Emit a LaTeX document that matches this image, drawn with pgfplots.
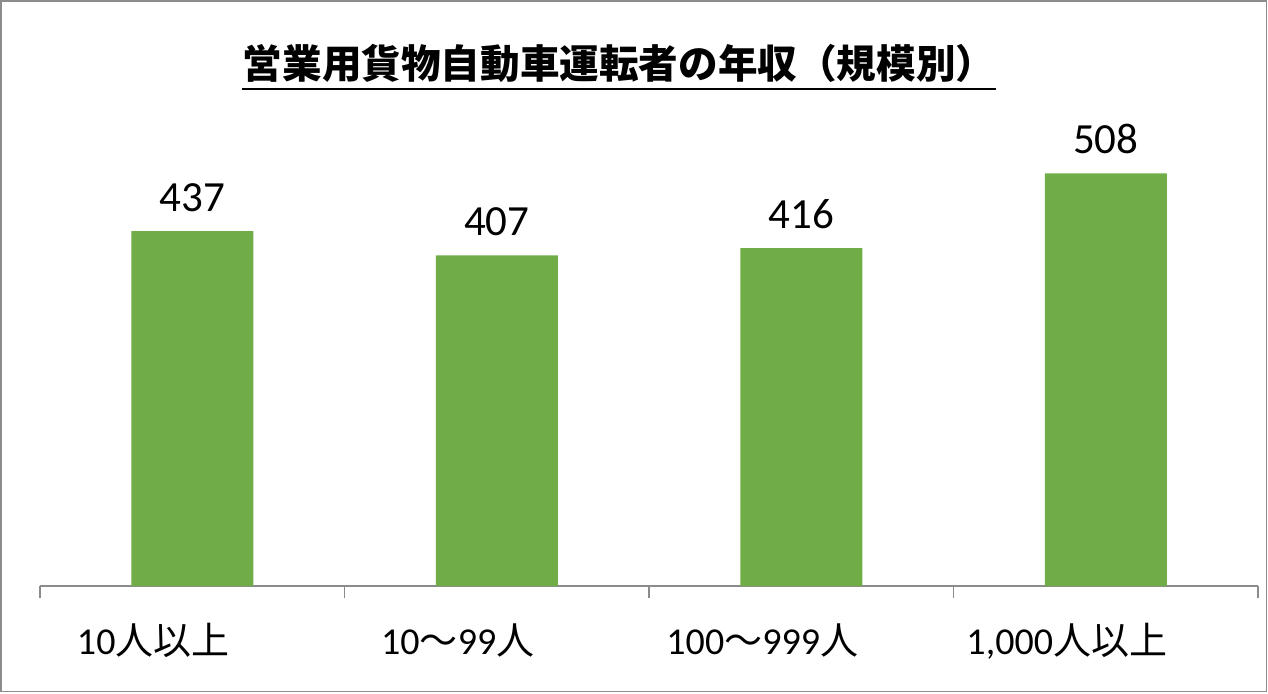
\documentclass[border=0pt]{standalone}
\usepackage{pgfplots}
\pgfplotsset{compat=1.18}
\usepackage{fontspec}
\setmainfont{Carlito}
\newfontfamily\cjk{Noto Sans CJK JP}
\definecolor{barg}{HTML}{70AD47}
\definecolor{axg}{HTML}{8C8C8C}

\begin{document}
\begin{tikzpicture}[x=1pt,y=1pt]
\useasboundingbox (0,0) rectangle (634,346.5);
\draw[axg, line width=0.8pt] (0.5,0.8) rectangle (633.2,346);

\node[anchor=base, inner sep=0, font=\cjk\bfseries\fontsize{19.8}{19.8}\selectfont] (t)
  at (309.5,307.5) {営業用貨物自動車運転者の年収（規模別）};
\draw[line width=1.2pt] ([yshift=-5.5pt]t.base west) -- ([yshift=-5.5pt]t.base east);

\begin{axis}[
    at={(20pt,53.5pt)},
    anchor=south west,
    scale only axis,
    width=609pt,
    height=243.7pt,
    xmin=-0.5, xmax=3.5,
    ymin=0, ymax=600,
    axis y line=none,
    axis x line*=bottom,
    x axis line style={-, axg, line width=0.8pt},
    ybar,
    bar width=61pt,
    xtick={0,1,2,3},
    xticklabels={{10\cjk 人以上},{10\cjk ～\rm 99\cjk 人},{100\cjk ～\rm 999\cjk 人},{1,000\cjk 人以上}},
    minor xtick={-0.5,0.5,1.5,2.5,3.5},
    major tick length=0pt,
    minor tick length=6pt,
    tick align=outside,
    tick style={axg, line width=0.8pt},
    xticklabel style={font=\fontsize{19}{19}\selectfont, anchor=base, yshift=-34pt, xshift=-19.5pt},
    nodes near coords,
    /pgf/number format/assume math mode=true,
    every node near coord/.append style={font=\fontsize{21.5}{21.5}\selectfont, anchor=base, inner sep=0pt, yshift=10pt, black},
    clip=false,
]
\addplot[fill=barg, draw=none] coordinates {(0,437) (1,407) (2,416) (3,508)};
\end{axis}
\end{tikzpicture}
\end{document}
